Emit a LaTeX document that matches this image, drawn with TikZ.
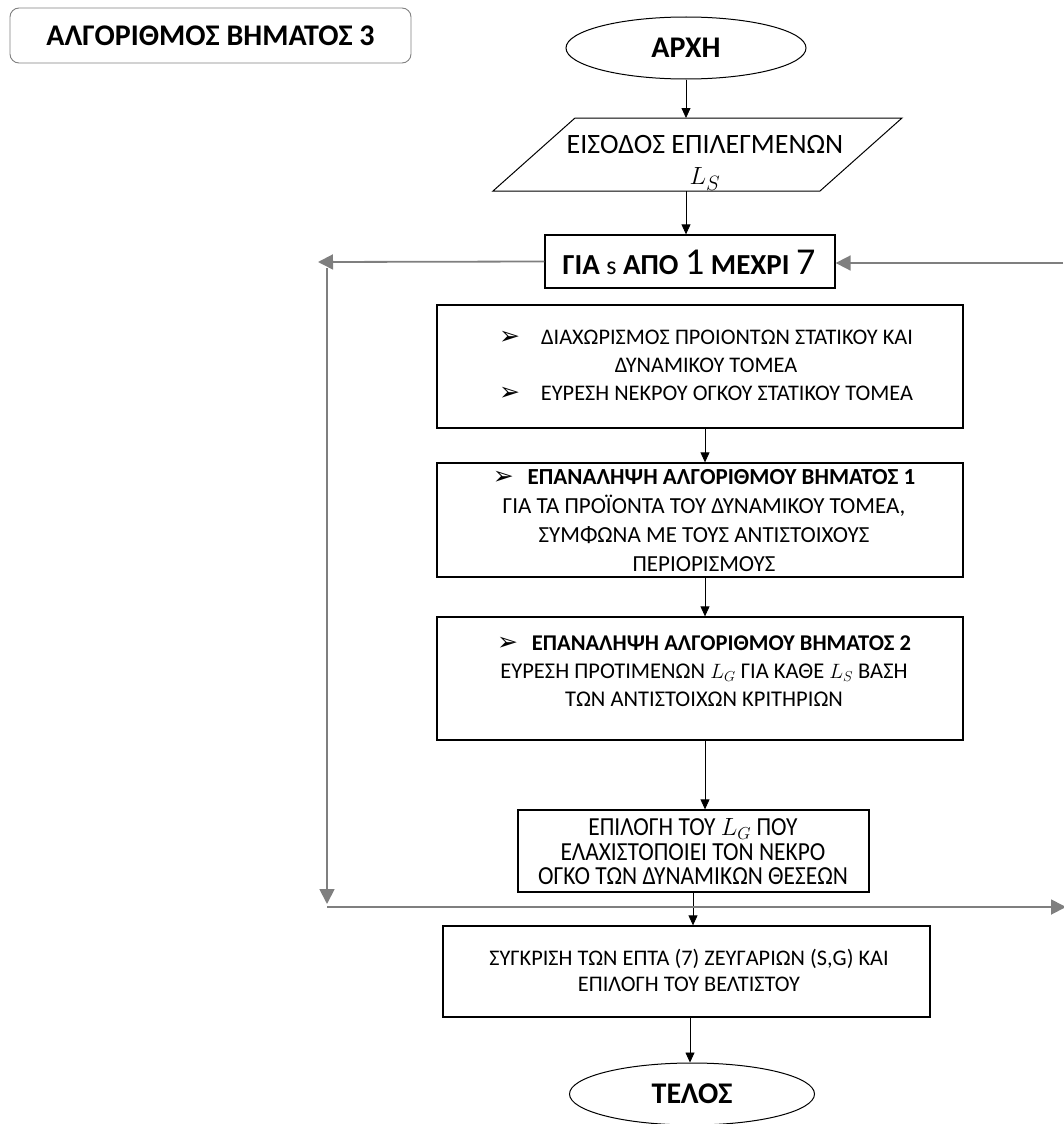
\documentclass[tikz,border=0pt]{standalone}
\usepackage{fontspec}
\setmainfont{Carlito}
\newfontfamily\dingfont{DejaVu Sans}
\newfontfamily\narrowfont[FakeStretch=0.9]{Carlito}
\usetikzlibrary{shapes.geometric,arrows.meta}
\definecolor{loopgray}{HTML}{7F7F7F}
\definecolor{framegray}{HTML}{808080}
% arrow bullet followed by a gap of the given width
\newcommand{\bul}[1]{{\dingfont\fontsize{25}{25}\selectfont ➢}\hspace{#1}}
\begin{document}
\begin{tikzpicture}[x=1pt,y=-1pt,
  txt/.style={align=center, inner sep=0pt},
  stepbox/.style={draw=black, line width=1.3pt, rectangle, inner sep=0pt},
  terminal/.style={draw=black, line width=1pt, ellipse, inner sep=0pt,
    font=\bfseries\fontsize{30}{34}\selectfont},
  flow/.style={draw=black, line width=0.8pt, -{Triangle[length=10pt,width=9pt]}},
  loopline/.style={draw=loopgray, line width=1.8pt, -{Triangle[length=15pt,width=15pt]}}]
\useasboundingbox (0,0) rectangle (1063,1124);

% title box
\node[draw=framegray, line width=0.9pt, rounded corners=9pt, minimum width=401pt,
  minimum height=55pt, font=\bfseries\fontsize{30}{34}\selectfont] (title) at (210.5,35.5)
  {ΑΛΓΟΡΙΘΜΟΣ ΒΗΜΑΤΟΣ 3};

% start
\node[terminal, minimum width=240pt, minimum height=62pt] (start) at (686,48) {ΑΡΧΗ};

% input parallelogram
\coordinate (inTL) at (575,118);
\coordinate (inTR) at (902,118);
\coordinate (inBR) at (820,191);
\coordinate (inBL) at (493,191);
\draw[line width=1pt, line join=miter] (inTL) -- (inTR) -- (inBR) -- (inBL) -- cycle;
\node[txt, font=\fontsize{28}{31}\selectfont] (input) at (705,163)
  {ΕΙΣΟΔΟΣ ΕΠΙΛΕΓΜΕΝΩΝ\\ $L_S$};
\coordinate (inTop) at (686,118);
\coordinate (inBot) at (686,191);

% loop header
\node[stepbox, minimum width=290pt, minimum height=53pt] (loop) at (690,261.5) {};
\node[txt, font=\bfseries\fontsize{29}{32}\selectfont] (loopText) at (689,262)
  {ΓΙΑ {\mdseries\fontsize{26}{28}\selectfont s} ΑΠΟ {\mdseries\fontsize{38}{40}\selectfont 1} ΜΕΧΡΙ {\mdseries\fontsize{38}{40}\selectfont 7}};

% body steps
\node[stepbox, minimum width=526pt, minimum height=123pt] (sep) at (700,366.5) {};
\node[txt, font=\fontsize{22.3}{28}\selectfont] (sepText) at (706,365)
  {\bul{21pt}ΔΙΑΧΩΡΙΣΜΟΣ ΠΡΟΊΟΝΤΩΝ ΣΤΑΤΙΚΟΥ ΚΑΙ\\
   ΔΥΝΑΜΙΚΟΥ ΤΟΜΕΑ\\
   \bul{21pt}ΕΥΡΕΣΗ ΝΕΚΡΟΥ ΟΓΚΟΥ ΣΤΑΤΙΚΟΥ ΤΟΜΕΑ};

\node[stepbox, minimum width=526pt, minimum height=114pt] (alg1) at (700,520) {};
\node[txt, font=\fontsize{23}{29}\selectfont] (alg1Text) at (704,521)
  {\bul{14pt}\textbf{ΕΠΑΝΑΛΗΨΗ ΑΛΓΟΡΙΘΜΟΥ ΒΗΜΑΤΟΣ 1}\\
   ΓΙΑ ΤΑ ΠΡΟΪΟΝΤΑ ΤΟΥ ΔΥΝΑΜΙΚΟΥ ΤΟΜΕΑ,\\
   ΣΥΜΦΩΝΑ ΜΕ ΤΟΥΣ ΑΝΤΙΣΤΟΙΧΟΥΣ\\
   ΠΕΡΙΟΡΙΣΜΟΥΣ};

\node[stepbox, minimum width=526pt, minimum height=123pt] (alg2) at (700,678.5) {};
\node[txt, font=\fontsize{22.5}{28}\selectfont] (alg2Text) at (704,671)
  {\bul{14pt}\textbf{ΕΠΑΝΑΛΗΨΗ ΑΛΓΟΡΙΘΜΟΥ ΒΗΜΑΤΟΣ 2}\\
   ΕΥΡΕΣΗ ΠΡΟΤΙΜΕΝΩΝ $L_G$ ΓΙΑ ΚΑΘΕ $L_S$ ΒΑΣΗ\\
   ΤΩΝ ΑΝΤΙΣΤΟΙΧΩΝ ΚΡΙΤΗΡΙΩΝ};

\node[stepbox, minimum width=351pt, minimum height=82pt] (pick) at (693.5,851) {};
\node[txt, font=\narrowfont\fontsize{26}{24.5}\selectfont] (pickText) at (693,852)
  {ΕΠΙΛΟΓΗ ΤΟΥ $L_G$ ΠΟΥ\\
   ΕΛΑΧΙΣΤΟΠΟΙΕΙ ΤΟΝ ΝΕΚΡΟ\\
   ΟΓΚΟ ΤΩΝ ΔΥΝΑΜΙΚΩΝ ΘΕΣΕΩΝ};

\node[stepbox, minimum width=487pt, minimum height=91pt] (cmp) at (686.5,971.5) {};
\node[txt, font=\fontsize{22.3}{26}\selectfont] (cmpText) at (689,970)
  {ΣΥΓΚΡΙΣΗ ΤΩΝ ΕΠΤΑ (7) ΖΕΥΓΑΡΙΩΝ (S,G) ΚΑΙ\\
   ΕΠΙΛΟΓΗ ΤΟΥ ΒΕΛΤΙΣΤΟΥ};

% end
\node[terminal, minimum width=245pt, minimum height=62pt] (end) at (692,1094) {ΤΕΛΟΣ};

% main flow
\draw[flow] (start.south) -- (inTop);
\draw[flow] (inBot) -- (loop.north -| inBot);
\draw[flow] (sep.south -| 705,0) -- (alg1.north -| 705,0);
\draw[flow] (alg1.south -| 705,0) -- (alg2.north -| 705,0);
\draw[flow] (alg2.south -| 705,0) -- (pick.north -| 705,0);
\draw[flow] (pick.south -| 693,0) -- (cmp.north -| 693,0);
\draw[flow] (cmp.south -| 690,0) -- (end.north -| 690,0);

% loop return lines
\coordinate (leftTip) at (318,262);
\coordinate (leftTop) at (327,268);
\coordinate (leftBot) at (327,904);
\coordinate (baseL) at (327,907);
\coordinate (baseR) at (1066,907);
\coordinate (rightIn) at (1063,263);
\draw[loopline] (loop.west) -- (leftTip);
\draw[loopline] (leftTop) -- (leftBot);
\draw[loopline] (baseL) -- (baseR);
\draw[loopline] (rightIn) -- (loop.east |- rightIn);
\end{tikzpicture}
\end{document}
